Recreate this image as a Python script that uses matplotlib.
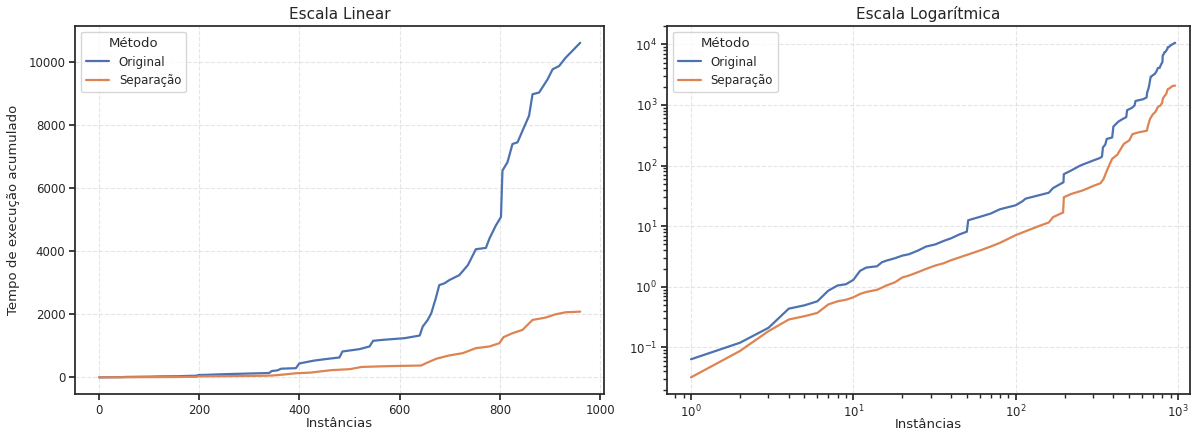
import matplotlib
matplotlib.use("Agg")
import matplotlib.pyplot as plt
from matplotlib.ticker import NullFormatter
import seaborn as sns

# cumulative execution time
orig_x = [1, 2, 3, 4, 5, 6, 7, 8, 9, 10, 11, 12, 14, 15, 16, 18, 20, 22, 25, 28,
          32, 36, 40, 45, 50, 51, 60, 70, 80, 100, 110, 115, 160, 170, 197, 198,
          220, 250, 300, 330, 340, 345, 356, 364, 393, 400, 429, 453, 480, 486,
          501, 520, 540, 547, 567, 610, 640, 646, 656, 663, 672, 679, 689, 699,
          719, 736, 752, 772, 779, 792, 802, 805, 815, 825, 835, 845, 858, 865,
          878, 895, 905, 918, 931, 944, 960]
orig_y = [0.0636, 0.119, 0.21, 0.435, 0.494, 0.575, 0.86, 1.05, 1.1, 1.3, 1.83,
          2.07, 2.18, 2.54, 2.7, 2.95, 3.26, 3.44, 3.95, 4.6, 5.0, 5.7, 6.3, 7.3,
          8.1, 12.5, 14.2, 16.1, 19, 22.1, 25.7, 28.4, 35.6, 42.5, 53, 72, 83,
          100, 121, 133, 140, 200, 220, 275, 290, 440, 530, 580, 630, 820, 853,
          895, 980, 1158, 1190, 1242, 1326, 1610, 1821, 2031, 2505, 2926, 2979,
          3084, 3242, 3558, 4063, 4105, 4400, 4821, 5084, 6558, 6821, 7400, 7452,
          7821, 8295, 8979, 9031, 9452, 9768, 9873, 10137, 10347, 10610]

sep_x = [1, 2, 3, 4, 5, 6, 7, 8, 9, 10, 11, 12, 14, 16, 18, 20, 22, 25, 28, 32,
         36, 40, 50, 60, 70, 80, 100, 120, 140, 160, 170, 196, 198, 220, 260,
         300, 333, 348, 365, 393, 422, 464, 501, 524, 575, 643, 653, 673, 699,
         726, 752, 779, 799, 807, 825, 845, 865, 891, 911, 931, 960]
sep_y = [0.032, 0.087, 0.185, 0.288, 0.327, 0.37, 0.51, 0.575, 0.61, 0.67, 0.76,
         0.82, 0.89, 1.05, 1.18, 1.42, 1.53, 1.74, 1.97, 2.24, 2.44, 2.74, 3.35,
         3.95, 4.6, 5.3, 7.1, 8.6, 10.1, 11.5, 14.1, 16.8, 30, 34, 39, 46, 51,
         60, 83, 129, 150, 228, 260, 330, 354, 375, 452, 590, 695, 768, 926, 979,
         1084, 1274, 1400, 1505, 1821, 1895, 2000, 2063, 2084]

methods = ["Original", "Separação"]
titles = ["Escala Linear", "Escala Logarítmica"]

sns.set_theme(style="ticks")
plt.rcParams.update({
    "xtick.labelsize": 8.5,
    "ytick.labelsize": 8.5,
    "xtick.major.size": 4.5,
    "ytick.major.size": 4.5,
    "xtick.minor.size": 3,
    "ytick.minor.size": 3,
    "xtick.major.pad": 2.5,
    "ytick.major.pad": 2.5,
    "axes.labelsize": 9.5,
    "axes.titlesize": 11,
    "legend.fontsize": 8.5,
    "legend.title_fontsize": 9.5,
})
colors = sns.color_palette("deep")

fig, axes = plt.subplots(1, 2, figsize=(11.93, 4.34), dpi=100)
axes[0].set_position([0.063, 0.092, 0.4435, 0.848])
axes[1].set_position([0.559, 0.092, 0.4385, 0.848])

for ax, title in zip(axes, titles):
    ax.plot(orig_x, orig_y, color=colors[0], lw=1.6, label=methods[0])
    ax.plot(sep_x, sep_y, color=colors[1], lw=1.6, label=methods[1])
    ax.set_title(title, pad=5)
    ax.grid(True, linestyle="--", alpha=0.5, lw=0.8)
    ax.legend(title="Método", loc="upper left")

axes[0].set_xlabel("Instâncias", labelpad=0)
axes[0].set_ylabel("Tempo de execução acumulado", labelpad=6)
axes[1].set_xscale("log")
axes[1].set_yscale("log")
axes[1].set_xlim(0.71, 1186)
axes[1].xaxis.set_minor_formatter(NullFormatter())
axes[1].yaxis.set_minor_formatter(NullFormatter())
axes[1].set_xlabel("Instâncias", labelpad=-2)

fig.savefig("out.png", dpi=100)
